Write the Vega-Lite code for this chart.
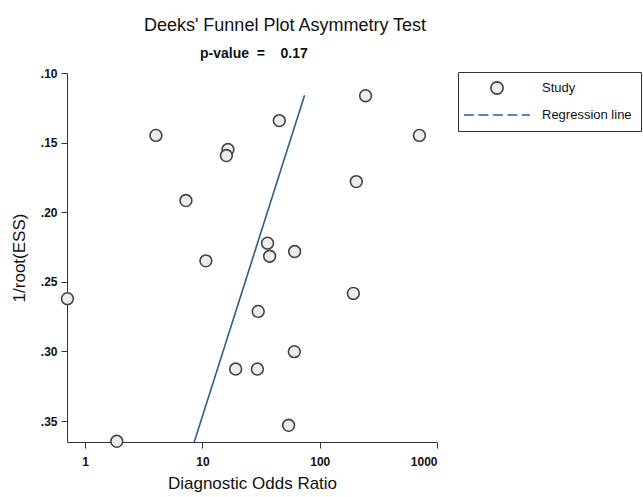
{
  "$schema": "https://vega.github.io/schema/vega-lite/v6.json",
  "width": 370,
  "height": 369,
  "autosize": {"type": "none"},
  "padding": {"left": 67, "top": 73, "right": 206, "bottom": 55},
  "background": "white",
  "title": {
    "text": "Deeks' Funnel Plot Asymmetry Test",
    "subtitle": "p-value\u00a0\u00a0=\u00a0\u00a0\u00a0\u00a00.17\u00a0\u00a0\u00a0\u00a0\u00a0\u00a0\u00a0\u00a0\u00a0\u00a0\u00a0\u00a0\u00a0\u00a0\u00a0\u00a0\u200b",
    "anchor": "middle",
    "dx": 33,
    "font": "Liberation Sans",
    "fontSize": 18,
    "fontWeight": "normal",
    "color": "#111",
    "subtitleFont": "Liberation Sans",
    "subtitleFontSize": 14,
    "subtitleFontWeight": "bold",
    "subtitleColor": "#111",
    "subtitlePadding": 12,
    "offset": 6
  },
  "config": {
    "view": {"stroke": null},
    "font": "Liberation Sans",
    "legend": {
      "title": null,
      "orient": "none",
      "legendX": 391,
      "legendY": -1,
      "strokeColor": "#333",
      "fillColor": "white",
      "padding": 9,
      "symbolSize": 150,
      "symbolOffset": 23,
      "labelOffset": 38,
      "labelFontSize": 13,
      "labelColor": "#111",
      "rowPadding": 10,
      "symbolStrokeWidth": 1.6
    }
  },
  "datasets": {
    "studies": [
      {"dor": 0.706, "ess": 0.2621},
      {"dor": 4.01, "ess": 0.1448},
      {"dor": 16.5, "ess": 0.155},
      {"dor": 16.0, "ess": 0.1593},
      {"dor": 7.23, "ess": 0.1916},
      {"dor": 10.7, "ess": 0.2349},
      {"dor": 45.2, "ess": 0.1342},
      {"dor": 246, "ess": 0.1163},
      {"dor": 708, "ess": 0.1448},
      {"dor": 205, "ess": 0.178},
      {"dor": 35.9, "ess": 0.2222},
      {"dor": 37.4, "ess": 0.2316},
      {"dor": 61.1, "ess": 0.2282},
      {"dor": 193.5, "ess": 0.2583},
      {"dor": 29.9, "ess": 0.2712},
      {"dor": 60.7, "ess": 0.3001},
      {"dor": 19.2, "ess": 0.3126},
      {"dor": 29.4, "ess": 0.3126},
      {"dor": 54.3, "ess": 0.353},
      {"dor": 1.86, "ess": 0.3645}
    ],
    "regression": [
      {"dor": 8.51, "ess": 0.365},
      {"dor": 74.3, "ess": 0.116}
    ]
  },
  "layer": [
    {
      "data": {"name": "studies"},
      "mark": {"type": "point", "shape": "circle", "filled": false, "fill": "#ececec", "fillOpacity": 1, "strokeWidth": 1.6, "size": 140, "opacity": 1},
      "encoding": {
        "x": {
          "field": "dor",
          "type": "quantitative",
          "scale": {"type": "log", "domain": [0.70, 1000], "nice": false},
          "axis": {
            "title": "Diagnostic Odds Ratio",
            "values": [1, 10, 100, 1000],
            "format": "d",
            "grid": false,
            "domainColor": "#333",
            "tickColor": "#333",
            "tickSize": 6,
            "labelPadding": 8,
            "labelFontSize": 12,
            "labelColor": "#111",
            "labelFontWeight": "bold",
            "titleFontSize": 17,
            "titleFontWeight": "normal",
            "titleColor": "#111",
            "titlePadding": 8
          }
        },
        "y": {
          "field": "ess",
          "type": "quantitative",
          "scale": {"domain": [0.10, 0.365], "reverse": true, "nice": false, "zero": false},
          "axis": {
            "title": "1/root(ESS)",
            "values": [0.10, 0.15, 0.20, 0.25, 0.30, 0.35],
            "labelExpr": "replace(format(datum.value, '.2f'), '0.', '.')",
            "grid": false,
            "domainColor": "#333",
            "tickColor": "#333",
            "tickSize": 6,
            "labelPadding": 4,
            "labelFontSize": 12,
            "labelColor": "#111",
            "labelFontWeight": "bold",
            "titleFontSize": 17,
            "titleFontWeight": "normal",
            "titleColor": "#111",
            "titlePadding": 12
          }
        },
        "color": {
          "datum": "Study",
          "type": "nominal",
          "scale": {"domain": ["Study", "Regression line"], "range": ["#444444", "#2c5f8f"]},
          "legend": {
            "encode": {
              "symbols": {
                "update": {
                  "shape": {"signal": "datum.value === 'Study' ? 'M-5.4,0M1,0L0.924,0.383L0.707,0.707L0.383,0.924L0,1L-0.383,0.924L-0.707,0.707L-0.924,0.383L-1,0L-0.924,-0.383L-0.707,-0.707L-0.383,-0.924L0,-1L0.383,-0.924L0.707,-0.707L0.924,-0.383ZM5.4,0' : 'M-5.4,0L5.4,0'"},
                  "stroke": {"signal": "datum.value === 'Study' ? '#444444' : '#6f9fd0'"},
                  "fill": {"signal": "datum.value === 'Study' ? '#ececec' : 'transparent'"},
                  "strokeDash": {"signal": "datum.value === 'Study' ? [] : [10, 4.5]"}
                }
              }
            }
          }
        }
      }
    },
    {
      "data": {"name": "regression"},
      "mark": {"type": "line", "strokeWidth": 1.6, "clip": false},
      "encoding": {
        "x": {"field": "dor", "type": "quantitative"},
        "y": {"field": "ess", "type": "quantitative"},
        "color": {
          "datum": "Regression line",
          "type": "nominal",
          "legend": {
            "encode": {
              "symbols": {
                "update": {
                  "shape": {"signal": "datum.value === 'Study' ? 'M-5.4,0M1,0L0.924,0.383L0.707,0.707L0.383,0.924L0,1L-0.383,0.924L-0.707,0.707L-0.924,0.383L-1,0L-0.924,-0.383L-0.707,-0.707L-0.383,-0.924L0,-1L0.383,-0.924L0.707,-0.707L0.924,-0.383ZM5.4,0' : 'M-5.4,0L5.4,0'"},
                  "stroke": {"signal": "datum.value === 'Study' ? '#444444' : '#6f9fd0'"},
                  "fill": {"signal": "datum.value === 'Study' ? '#ececec' : 'transparent'"},
                  "strokeDash": {"signal": "datum.value === 'Study' ? [] : [10, 4.5]"}
                }
              }
            }
          }
        }
      }
    }
  ]
}
